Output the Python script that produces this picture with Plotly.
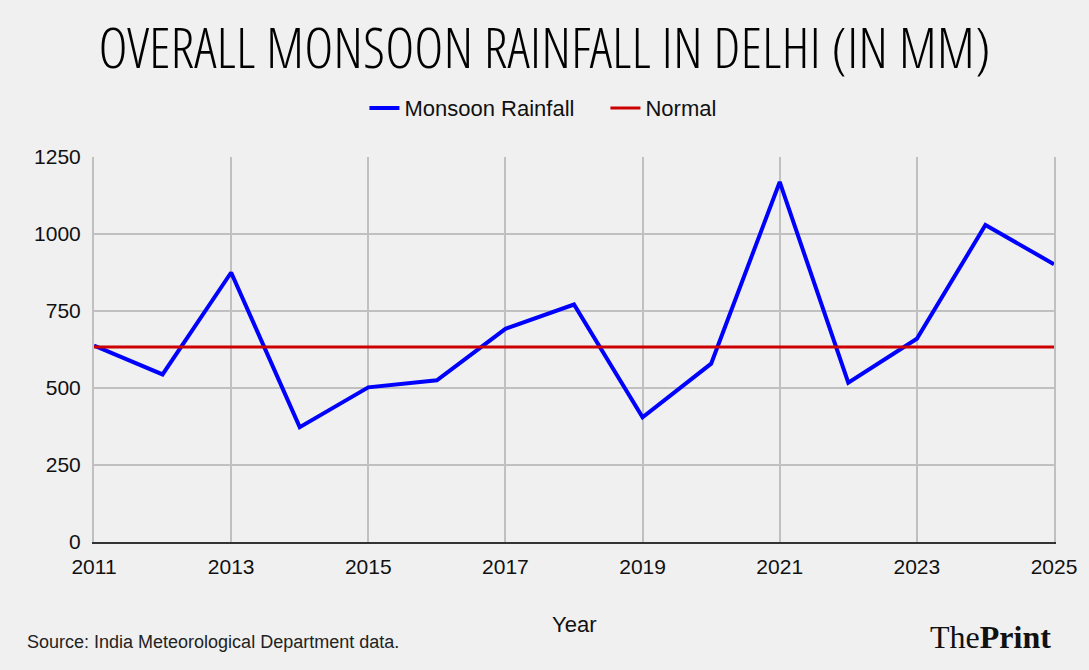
import plotly.graph_objects as go

years = list(range(2011, 2026))
rainfall = [638, 544, 875, 373, 502, 525, 692, 771, 405, 579, 1169, 517, 660, 1029, 902]
normal_value = 633
normal = [normal_value] * len(years)

title_text = "OVERALL MONSOON RAINFALL IN DELHI (IN MM)"
source_text = "Source: India Meteorological Department data."

fig = go.Figure()
fig.add_trace(go.Scatter(x=years, y=rainfall, mode="lines", name="Monsoon Rainfall",
                         line=dict(color="#0000ff", width=4)))
fig.add_trace(go.Scatter(x=years, y=normal, mode="lines", name="Normal",
                         line=dict(color="#cc0000", width=3)))

W, H = 1089, 670
l, r, t, b = 94, 33, 157, 128
pw, ph = W - l - r, H - t - b

def px_ann(text, x, y, **kw):
    return dict(text=text, x=(x - l) / pw, y=(H - b - y) / ph, xref="paper", yref="paper",
                showarrow=False, yanchor="middle", **kw)

anns = [
    px_ann("Year", 575, 624, font=dict(size=22)),
    px_ann(source_text, 25, 642, xanchor="left", font=dict(size=18, color="#222222")),
    px_ann("The<b>Print</b>", 1055, 637, xanchor="right",
           font=dict(family="Liberation Serif, serif", size=32, color="#111111")),
]

fig.update_layout(
    width=W, height=H,
    paper_bgcolor="#f0f0f0", plot_bgcolor="#f0f0f0",
    margin=dict(l=l, r=r, t=t, b=b),
    font=dict(family="Liberation Sans, Arial, sans-serif", color="#111111", size=21),
    title=dict(text=title_text, x=0.5, xanchor="center", y=0.928, yanchor="middle",
               font=dict(family="Open Sans Condensed Light, Roboto Condensed, sans-serif",
                         size=56, color="#000000")),
    showlegend=True,
    legend=dict(orientation="h", x=(365 - l) / pw, xanchor="left", y=1.127, yanchor="middle",
                font=dict(size=22), itemwidth=30, entrywidth=196, bgcolor="rgba(0,0,0,0)"),
    xaxis=dict(range=[2011, 2025], tick0=2011, dtick=2, showgrid=True,
               gridcolor="#c0c0c0", gridwidth=2, showline=True, linecolor="#333333",
               linewidth=2, ticks="", zeroline=False, tickfont=dict(size=21),
               ticklabelstandoff=5, layer="below traces"),
    yaxis=dict(range=[0, 1250], tick0=0, dtick=250, showgrid=True,
               gridcolor="#c0c0c0", gridwidth=2, showline=True, linecolor="#c0c0c0",
               linewidth=2, mirror=True, ticks="",
               zeroline=False, tickfont=dict(size=21), ticklabelstandoff=7),
    annotations=anns,
)

fig.write_html("out.html")
